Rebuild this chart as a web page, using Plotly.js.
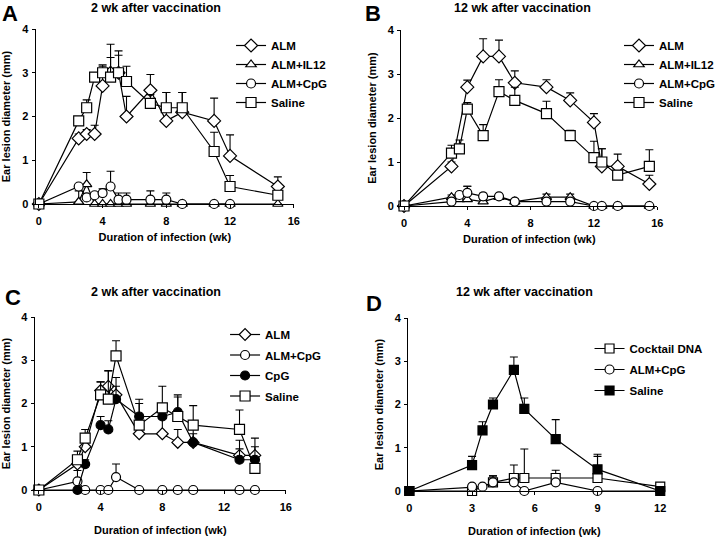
<!DOCTYPE html>
<html><head><meta charset="utf-8">
<script src="https://cdn.plot.ly/plotly-3.0.1.min.js"></script>
<style>html,body{margin:0;padding:0;background:#fff}#chart{width:720px;height:537px}</style>
</head><body><div id="chart"></div>
<script>
// Panel A: 2 wk after vaccination
const xA = [0,2.5,3,3.5,4,4.5,5,5.5,7,8,9,11,12,15];
const xA_cpg = [0,2.5,3,3.5,4,4.5,5,5.5,7,8,9,11,12];
const yA_alm = [0,1.5,1.6,1.6,2.7,3.0,3.0,2.0,2.6,1.9,2.1,1.9,1.1,0.4];
const eA_alm = [0,0.1,0.1,0.2,0.45,0.65,0.4,0.46,0.36,0.65,0.45,0.52,0.48,0.22];
const yA_il12 = [0,0.05,0.45,0,0,0,0,0,0,0,0,0,0,0];
const eA_il12 = [0,0.25,0.27,0,0,0,0,0,0,0,0,0,0,0];
const yA_cpg = [0,0.4,0.15,0.2,0.25,0.4,0.1,0.1,0.1,0.1,0,0,0];
const eA_cpg = [0,0.05,0.05,0.05,0.1,0.35,0.15,0.15,0.2,0.15,0,0,0];
const yA_sal = [0,1.9,2.2,2.9,3.0,2.9,3.0,2.8,2.3,2.2,2.2,1.2,0.4,0.2];
const eA_sal = [0,0.1,0.18,0.1,0.18,0.45,0.5,0.35,0.2,0.35,0.35,0.44,0.25,0.1];

// Panel B: 12 wk after vaccination
const xB_alm = [0,3,4,5,6,7,9,10.5,12,12.5,13.5,15.5];
const yB_alm = [0,0.9,2.7,3.4,3.4,2.8,2.7,2.4,1.9,0.9,0.9,0.5];
const eB_alm = [0,0.1,0.16,0.4,0.37,0.27,0.17,0.17,0.2,0.4,0.28,0.2];
const xB = [0,3,3.5,4,5,6,7,9,10.5,12,12.5,13.5,15.5];
const yB_il12 = [0,0.2,0.15,0.15,0.1,0.2,0.1,0.2,0.2,0,0,0,0];
const eB_il12 = [0,0.05,0.05,0.3,0.05,0.05,0.05,0.07,0.07,0,0,0,0];
const yB_cpg = [0,0.1,0.25,0.3,0.22,0.22,0.1,0.1,0.1,0,0,0,0];
const eB_cpg = [0,0.05,0.05,0.15,0.07,0.05,0.05,0.05,0.05,0,0,0,0];
const yB_sal = [0,1.2,1.3,2.2,1.6,2.6,2.4,2.1,1.6,1.1,1.0,0.7,0.9];
const eB_sal = [0,0.18,0.2,0.15,0.25,0.27,0.3,0.28,0.12,0.37,0.3,0.1,0.38];

// Panel C: 2 wk after vaccination
const xC = [0,2.5,3,4,4.5,5,6.5,8,9,10,13,14];
const yC_alm = [0,0.6,1.0,2.3,2.4,2.2,1.3,1.3,1.1,1.1,0.8,0.8];
const eC_alm = [0,0.15,0.2,0.2,0.36,0.4,0.3,0.35,0.3,0.3,0.35,0.4];
const yC_almcpg = [0,0.2,0,0,0,0.3,0,0,0,0,0,0];
const eC_almcpg = [0,0.25,0,0,0,0.3,0,0,0,0,0,0];
const yC_cpg = [0,0,0.6,1.5,1.4,2.1,1.7,1.7,1.8,1.1,0.7,0.7];
const eC_cpg = [0,0,0.1,0.2,0.2,0.3,0.4,0.2,0.4,0.2,0.25,0.3];
const yC_sal = [0,0.7,1.2,2.2,2.1,3.1,1.5,1.9,1.7,1.5,1.4,0.5];
const eC_sal = [0,0.2,0.2,0.3,0.65,0.35,0.5,0.5,0.45,0.45,0.45,0.2];

// Panel D: 12 wk after vaccination
const xD_ck = [0,3,4,5,5.5,7,9,12];
const yD_ck = [0,0,0.2,0.3,0.3,0.3,0.3,0.1];
const eD_ck = [0,0,0.15,0.3,0.67,0.18,0.5,0];
const xD = [0,3,3.5,4,5,5.5,7,9,12];
const yD_almcpg = [0,0.1,0.1,0.2,0.2,0,0.2,0,0];
const eD_almcpg = [0,0,0,0.15,0,0,0,0,0];
const yD_sal = [0,0.6,1.4,2.0,2.8,1.9,1.2,0.5,0];
const eD_sal = [0,0.2,0.2,0.15,0.3,0.25,0.45,0.35,0];

const panelLetters = ['A','B','C','D'];
const panelTitles = ['2 wk after vaccination','12 wk after vaccination','2 wk after vaccination','12 wk after vaccination'];
const yTitle = 'Ear lesion diameter (mm)';
const xTitle = 'Duration of infection (wk)';

const FONT = 'Liberation Sans, Arial, sans-serif';
const BLK = '#000';

function tr(name, x, y, e, sym, filled, size, ax, leg) {
  return {
    type:'scatter', mode:'lines+markers', name:name, x:x, y:y,
    xaxis:'x'+ax, yaxis:'y'+ax, legend:leg, legendgroup:leg + name, cliponaxis:false,
    line:{color:BLK, width:1.2},
    marker:{symbol:sym, size:size, color: filled ? BLK : '#fff', line:{color:BLK, width:1.2}},
    error_y:{type:'data', symmetric:false, array:e.map(v => v > 0 ? v : null),
             arrayminus:e.map(() => 0), color:BLK, thickness:1.1, width:4}
  };
}

const data = [
  tr('ALM', xA, yA_alm, eA_alm, 'diamond', false, 10, '', 'legend'),
  tr('ALM+IL12', xA, yA_il12, eA_il12, 'triangle-up', false, 9, '', 'legend'),
  tr('ALM+CpG', xA_cpg, yA_cpg, eA_cpg, 'circle', false, 9, '', 'legend'),
  tr('Saline', xA, yA_sal, eA_sal, 'square', false, 10, '', 'legend'),

  tr('ALM', xB_alm, yB_alm, eB_alm, 'diamond', false, 10, '2', 'legend2'),
  tr('ALM+IL12', xB, yB_il12, eB_il12, 'triangle-up', false, 9, '2', 'legend2'),
  tr('ALM+CpG', xB, yB_cpg, eB_cpg, 'circle', false, 9, '2', 'legend2'),
  tr('Saline', xB, yB_sal, eB_sal, 'square', false, 10, '2', 'legend2'),

  tr('ALM', xC, yC_alm, eC_alm, 'diamond', false, 9, '3', 'legend3'),
  tr('ALM+CpG', xC, yC_almcpg, eC_almcpg, 'circle', false, 9, '3', 'legend3'),
  tr('CpG', xC, yC_cpg, eC_cpg, 'circle', true, 9, '3', 'legend3'),
  tr('Saline', xC, yC_sal, eC_sal, 'square', false, 10, '3', 'legend3'),

  tr('Cocktail DNA', xD_ck, yD_ck, eD_ck, 'square', false, 9, '4', 'legend4'),
  tr('ALM+CpG', xD, yD_almcpg, eD_almcpg, 'circle', false, 9, '4', 'legend4'),
  tr('Saline', xD, yD_sal, eD_sal, 'square', true, 9, '4', 'legend4')
];

const W = 720, H = 537;
const px = v => v / W, py = v => 1 - v / H;

function xax(domain, range, dtick, anchor, standoff) {
  return {domain:domain, range:range, dtick:dtick, tick0:0, anchor:anchor,
    showline:true, linecolor:BLK, linewidth:1.2, ticks:'outside', ticklen:3, tickwidth:1, tickcolor:BLK,
    ticklabelstandoff:4,
    showgrid:false, zeroline:false, fixedrange:true,
    tickfont:{family:FONT, size:11, color:BLK, weight:'bold'},
    title:{text:xTitle, standoff:standoff, font:{family:FONT, size:11, color:BLK, weight:'bold'}}};
}
function yax(domain, anchor) {
  return {domain:domain, range:[0,4], dtick:1, tick0:0, anchor:anchor,
    showline:true, linecolor:BLK, linewidth:1.2, ticks:'outside', ticklen:3, tickwidth:1, tickcolor:BLK,
    ticklabelstandoff:1,
    showgrid:false, zeroline:false, fixedrange:true,
    tickfont:{family:FONT, size:11, color:BLK, weight:'bold'},
    title:{text:yTitle, standoff:9, font:{family:FONT, size:11, color:BLK, weight:'bold'}}};
}
function leg(x, y, gap) {
  return {x:x, y:y, xanchor:'left', yanchor:'top', bgcolor:'rgba(0,0,0,0)', borderwidth:0,
    itemwidth:30, tracegroupgap:gap, traceorder:'grouped',
    font:{family:FONT, size:11.5, color:BLK, weight:'bold'}};
}

const letterPos = [[10,0],[375,0],[13,284],[376,290]];
const titlePos = [[157,8],[525,8],[157,292],[527,292]];
const annotations = [];
for (let i = 0; i < 4; i++) {
  annotations.push({xref:'paper', yref:'paper', x:px(letterPos[i][0]), y:py(letterPos[i][1]),
    xanchor:'center', yanchor:'top', borderpad:0, showarrow:false, text:panelLetters[i],
    font:{family:FONT, size:22, color:BLK, weight:'bold'}});
  annotations.push({xref:'paper', yref:'paper', x:px(titlePos[i][0]), y:py(titlePos[i][1]),
    xanchor:'center', yanchor:'middle', showarrow:false, text:panelTitles[i],
    font:{family:FONT, size:12.5, color:BLK, weight:'bold'}});
}

const layout = {
  width:W, height:H, margin:{l:0, r:0, t:0, b:0}, paper_bgcolor:'#fff', plot_bgcolor:'rgba(0,0,0,0)',
  showlegend:true, font:{family:FONT, color:BLK},
  xaxis: xax([px(36), px(295)], [-0.19,16], 4, 'y', 6),
  yaxis: yax([py(204), py(29)], 'x'),
  xaxis2: xax([px(403), px(660)], [-0.17,16], 4, 'y2', 6),
  yaxis2: yax([py(206), py(30)], 'x2'),
  xaxis3: xax([px(35), px(287)], [-0.26,16], 4, 'y3', 13),
  yaxis3: yax([py(490), py(317)], 'x3'),
  xaxis4: xax([px(410), px(663)], [-0.05,12], 3, 'y4', 13),
  yaxis4: yax([py(491), py(318)], 'x4'),
  legend: leg(px(232), py(31), 0),
  legend2: leg(px(622), py(31), 0),
  legend3: leg(px(226), py(320), 1.5),
  legend4: leg(px(592), py(334), 2),
  annotations: annotations
};

Plotly.newPlot('chart', data, layout, {staticPlot:true, displayModeBar:false});
</script>
</body></html>
